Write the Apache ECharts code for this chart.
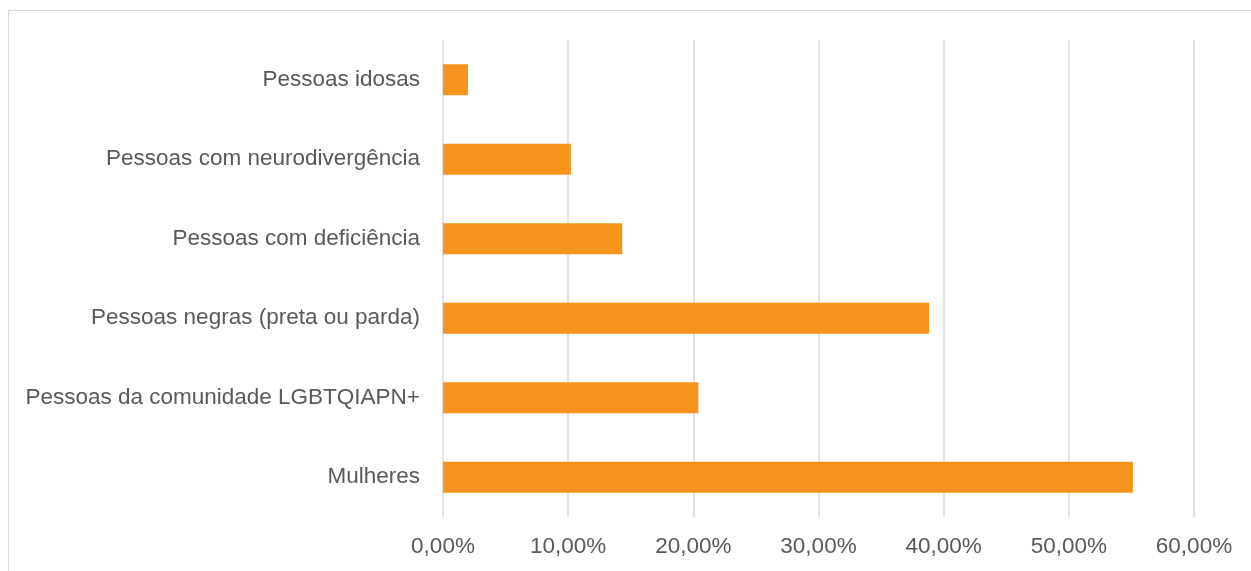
<!DOCTYPE html>
<html>
<head>
<meta charset="utf-8">
<script src="https://cdn.jsdelivr.net/npm/echarts@6/dist/echarts.min.js"></script>
<style>
  html, body { margin: 0; padding: 0; background: #ffffff; }
  #frame { position: absolute; left: 8px; top: 10px; width: 1300px; height: 700px; border: 1.5px solid #D9D9D9; box-sizing: border-box; }
  #chart { position: absolute; left: 0; top: 0; width: 1251px; height: 571px; }
</style>
</head>
<body>
<div id="frame"></div>
<div id="chart"></div>
<script>
const categories = [
  "Mulheres",
  "Pessoas da comunidade LGBTQIAPN+",
  "Pessoas negras (preta ou parda)",
  "Pessoas com deficiência",
  "Pessoas com neurodivergência",
  "Pessoas idosas"
];
const values = [0.5512, 0.2040, 0.3884, 0.1432, 0.1022, 0.0200];
const xTicks = [0, 0.1, 0.2, 0.3, 0.4, 0.5, 0.6];

const chart = echarts.init(document.getElementById('chart'), null, { renderer: 'canvas' });
const fmt = v => (v * 100).toFixed(2).replace('.', ',') + '%';
chart.setOption({
  animation: false,
  grid: { left: 443, right: 57, top: 40, bottom: 54, containLabel: false },
  xAxis: {
    type: 'value',
    min: xTicks[0],
    max: xTicks[xTicks.length - 1],
    interval: 0.1,
    axisLine: { show: false },
    axisTick: { show: false },
    splitLine: { show: true, lineStyle: { color: '#D9D9D9', width: 1.5 } },
    axisLabel: {
      formatter: fmt,
      color: '#595959',
      fontSize: 22.5,
      fontFamily: 'Liberation Sans, Arial, sans-serif',
      margin: 18
    }
  },
  yAxis: {
    type: 'category',
    data: categories,
    axisLine: { show: false },
    axisTick: { show: false },
    splitLine: { show: false },
    axisLabel: {
      color: '#595959',
      fontSize: 22.5,
      fontFamily: 'Liberation Sans, Arial, sans-serif',
      margin: 23
    }
  },
  series: [{
    type: 'bar',
    data: values,
    barWidth: '39%',
    itemStyle: { color: '#F7941D' }
  }]
});
</script>
</body>
</html>
